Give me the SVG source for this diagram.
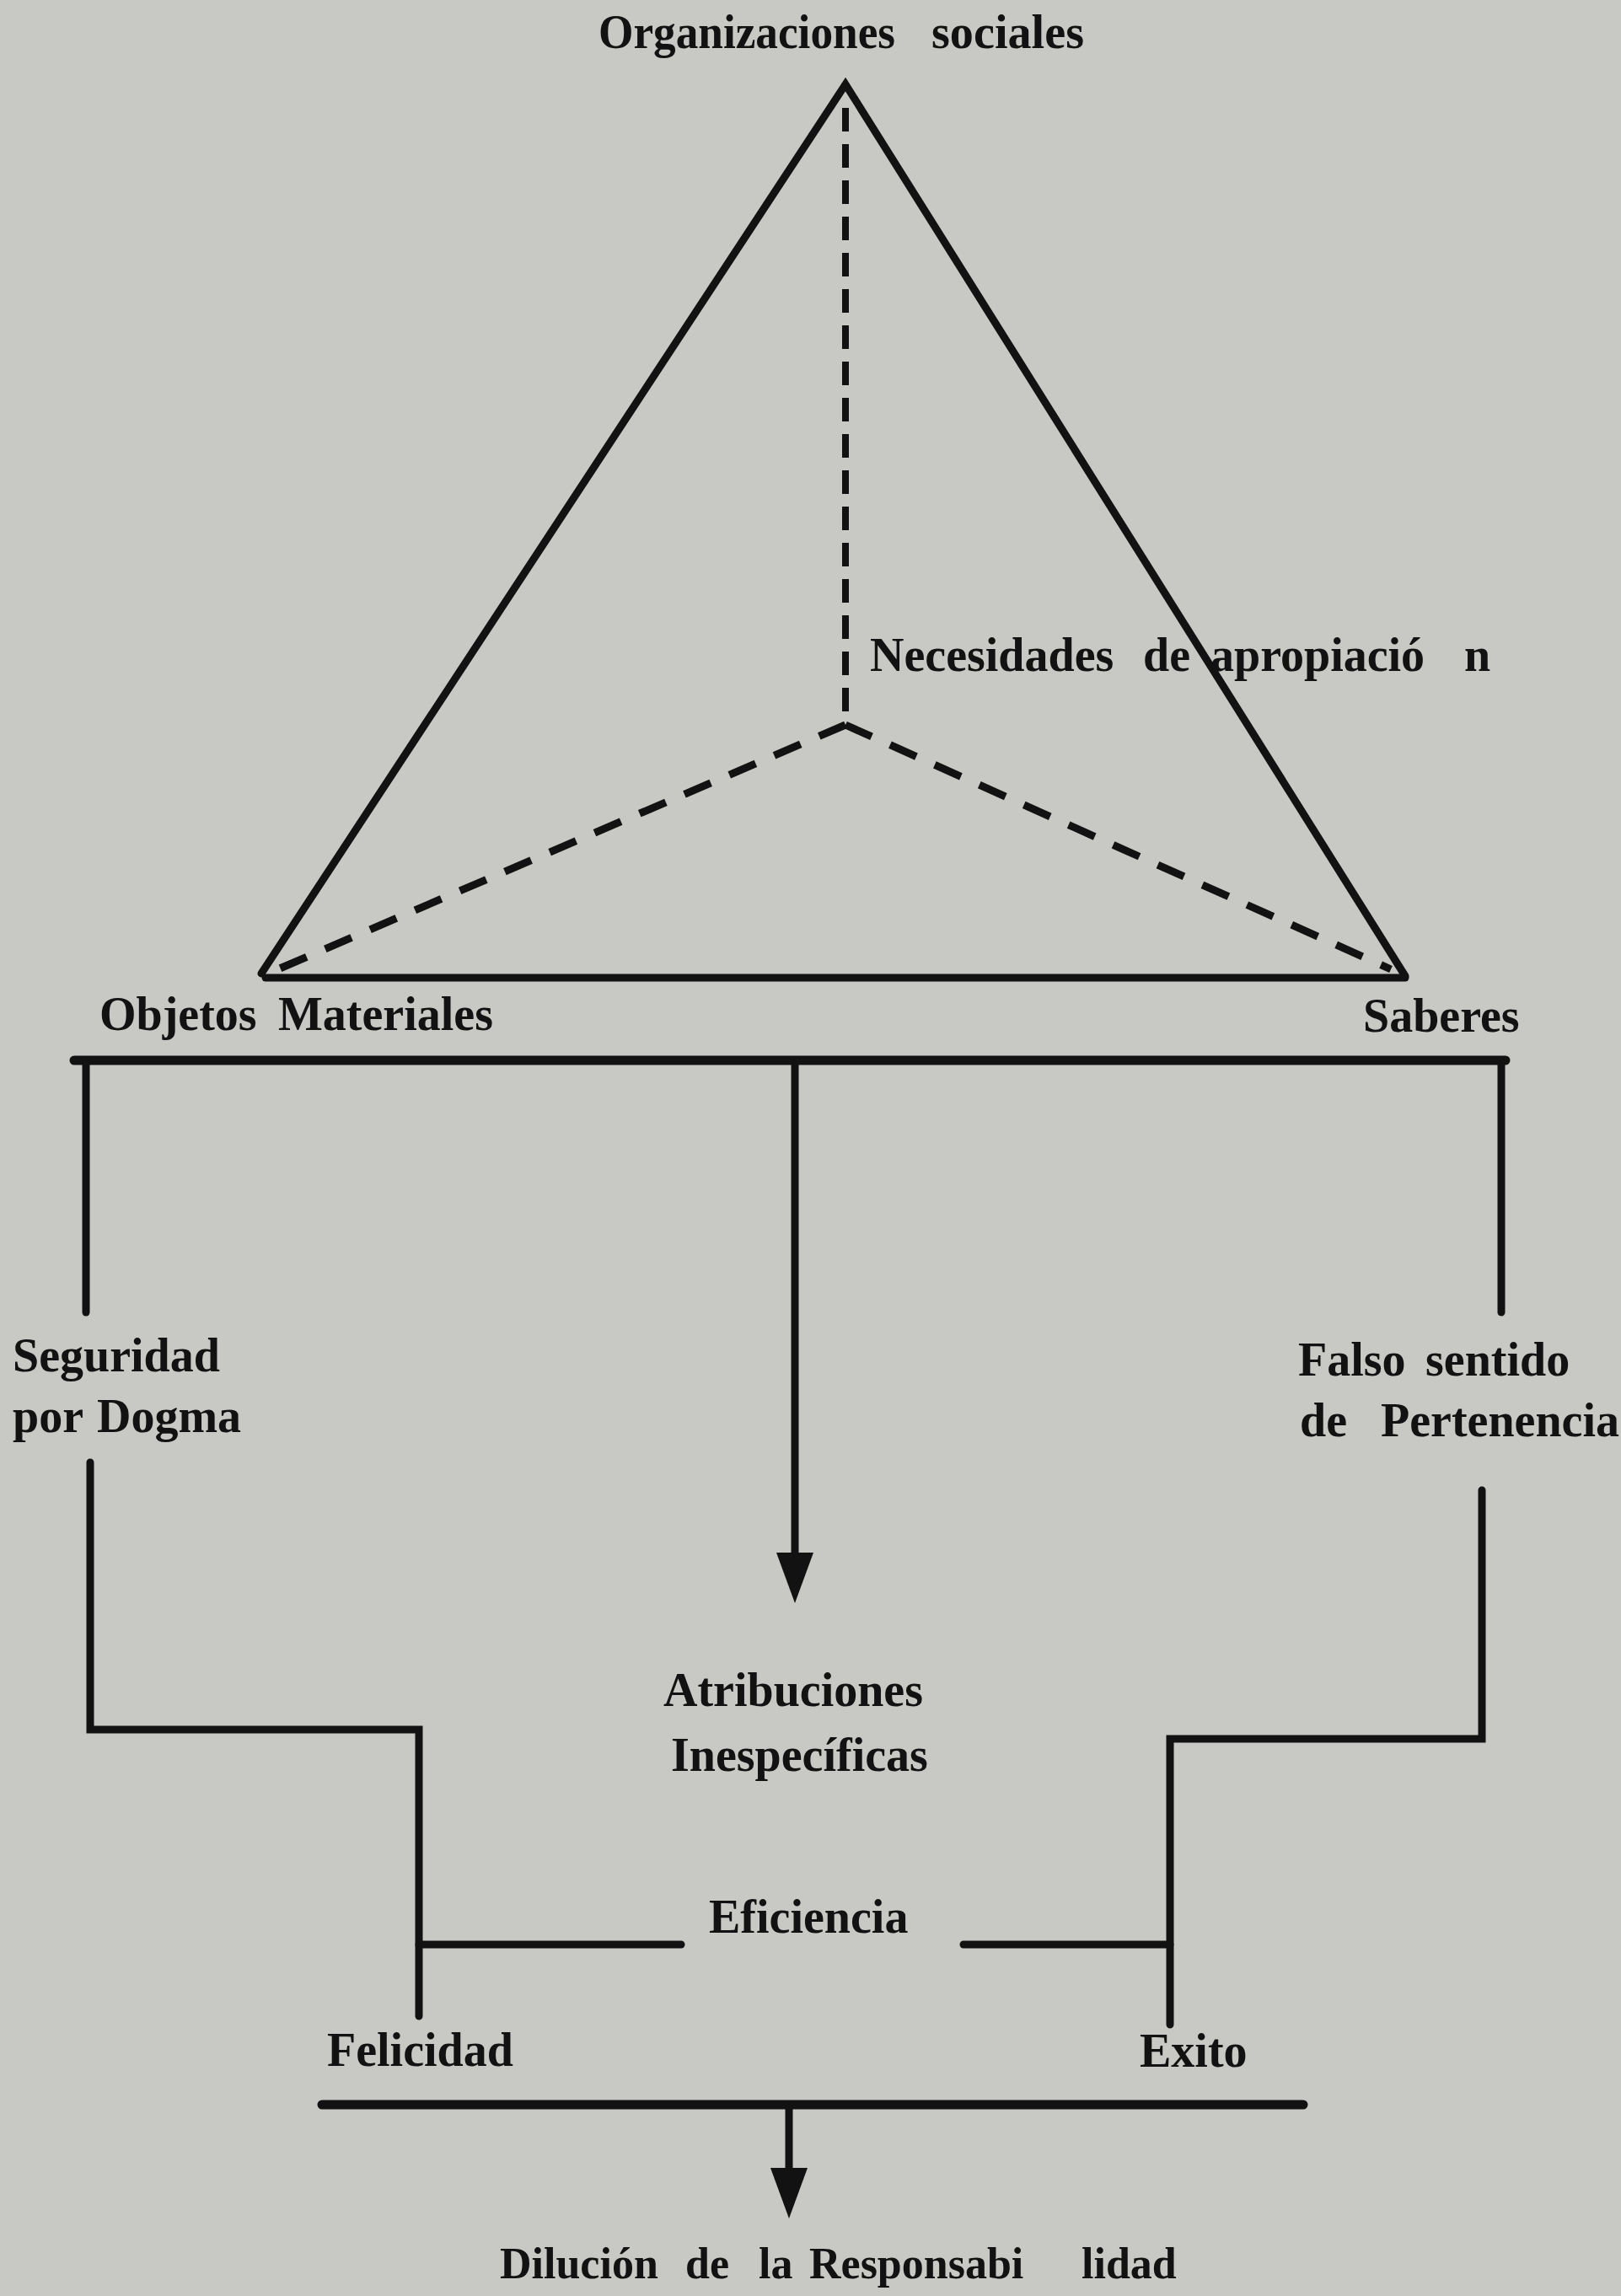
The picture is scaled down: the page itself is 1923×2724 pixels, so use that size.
<svg xmlns="http://www.w3.org/2000/svg" width="1923" height="2724" viewBox="0 0 1923 2724">
<style>
.lbl{font-family:"Liberation Serif","Times New Roman",serif;font-weight:bold;font-size:56px;fill:#121212}
.solid{fill:none;stroke:#121212;stroke-width:9;stroke-linejoin:miter;stroke-linecap:round}
.thick{fill:none;stroke:#121212;stroke-width:11;stroke-linecap:round}
.dashv{fill:none;stroke:#121212;stroke-width:8;stroke-dasharray:28 15}
.dashd{fill:none;stroke:#121212;stroke-width:9;stroke-dasharray:34 24}
</style>
<defs>
<marker id="arrow" markerUnits="userSpaceOnUse" markerWidth="64" markerHeight="48" viewBox="0 -24 64 48" refX="0" refY="0" orient="auto">
<path d="M0,-22 L60,0 L0,22 Z" fill="#121212"/>
</marker>
</defs>
<rect x="0" y="0" width="1923" height="2724" fill="#c8c8c4"/>
<g id="connectors">
<polyline class="solid" points="310,1155 1003,100 1667,1158"/>
<line class="solid" x1="315" y1="1160" x2="1667" y2="1160"/>
<line class="dashv" x1="1003" y1="128" x2="1003" y2="858"/>
<line class="dashd" x1="1003" y1="860" x2="325" y2="1152"/>
<line class="dashd" x1="1003" y1="860" x2="1650" y2="1150"/>
<line class="thick" x1="88" y1="1258" x2="1786" y2="1258"/>
<line class="solid" x1="102" y1="1258" x2="102" y2="1557"/>
<line class="solid" x1="1781" y1="1258" x2="1781" y2="1557"/>
<line class="solid" x1="943" y1="1258" x2="943" y2="1842" marker-end="url(#arrow)"/>
<polyline class="solid" points="107,1735 107,2052 497,2052 497,2392"/>
<line class="solid" x1="497" y1="2307" x2="808" y2="2307"/>
<polyline class="solid" points="1758,1768 1758,2063 1388,2063 1388,2402"/>
<line class="solid" x1="1143" y1="2307" x2="1388" y2="2307"/>
<line class="thick" x1="382" y1="2497" x2="1546" y2="2497"/>
<line class="solid" x1="936" y1="2497" x2="936" y2="2572" marker-end="url(#arrow)"/>
</g>
<g id="organizaciones"><text class="lbl" y="57"><tspan x="710" textLength="352" lengthAdjust="spacingAndGlyphs">Organizaciones</tspan><tspan x="1105" textLength="181" lengthAdjust="spacingAndGlyphs">sociales</tspan></text></g>
<g id="necesidades"><text class="lbl" y="796"><tspan x="1032">Necesidades</tspan><tspan x="1356">de</tspan><tspan x="1436">apropiació</tspan><tspan x="1737">n</tspan></text></g>
<g id="objetos"><text class="lbl" y="1222"><tspan x="118">Objetos</tspan><tspan x="330">Materiales</tspan></text></g>
<g id="saberes"><text class="lbl" x="1617" y="1224">Saberes</text></g>
<g id="seguridad"><text class="lbl"><tspan x="15" y="1627">Seguridad</tspan><tspan x="15" y="1699">por</tspan><tspan x="115" y="1699">Dogma</tspan></text></g>
<g id="falso"><text class="lbl"><tspan x="1540" y="1632">Falso</tspan><tspan x="1691" y="1632">sentido</tspan><tspan x="1542" y="1704">de</tspan><tspan x="1638" y="1704">Pertenencia</tspan></text></g>
<g id="atribuciones"><text class="lbl"><tspan x="787" y="2024">Atribuciones</tspan><tspan x="796" y="2101">Inespecíficas</tspan></text></g>
<g id="eficiencia"><text class="lbl" x="841" y="2293">Eficiencia</text></g>
<g id="felicidad"><text class="lbl" x="388" y="2451">Felicidad</text></g>
<g id="exito"><text class="lbl" x="1352" y="2452">Exito</text></g>
<g id="dilucion"><text class="lbl" y="2703" style="font-size:52px"><tspan x="593">Dilución</tspan><tspan x="813">de</tspan><tspan x="900">la</tspan><tspan x="960">Responsabi</tspan><tspan x="1283">lidad</tspan></text></g>
</svg>
